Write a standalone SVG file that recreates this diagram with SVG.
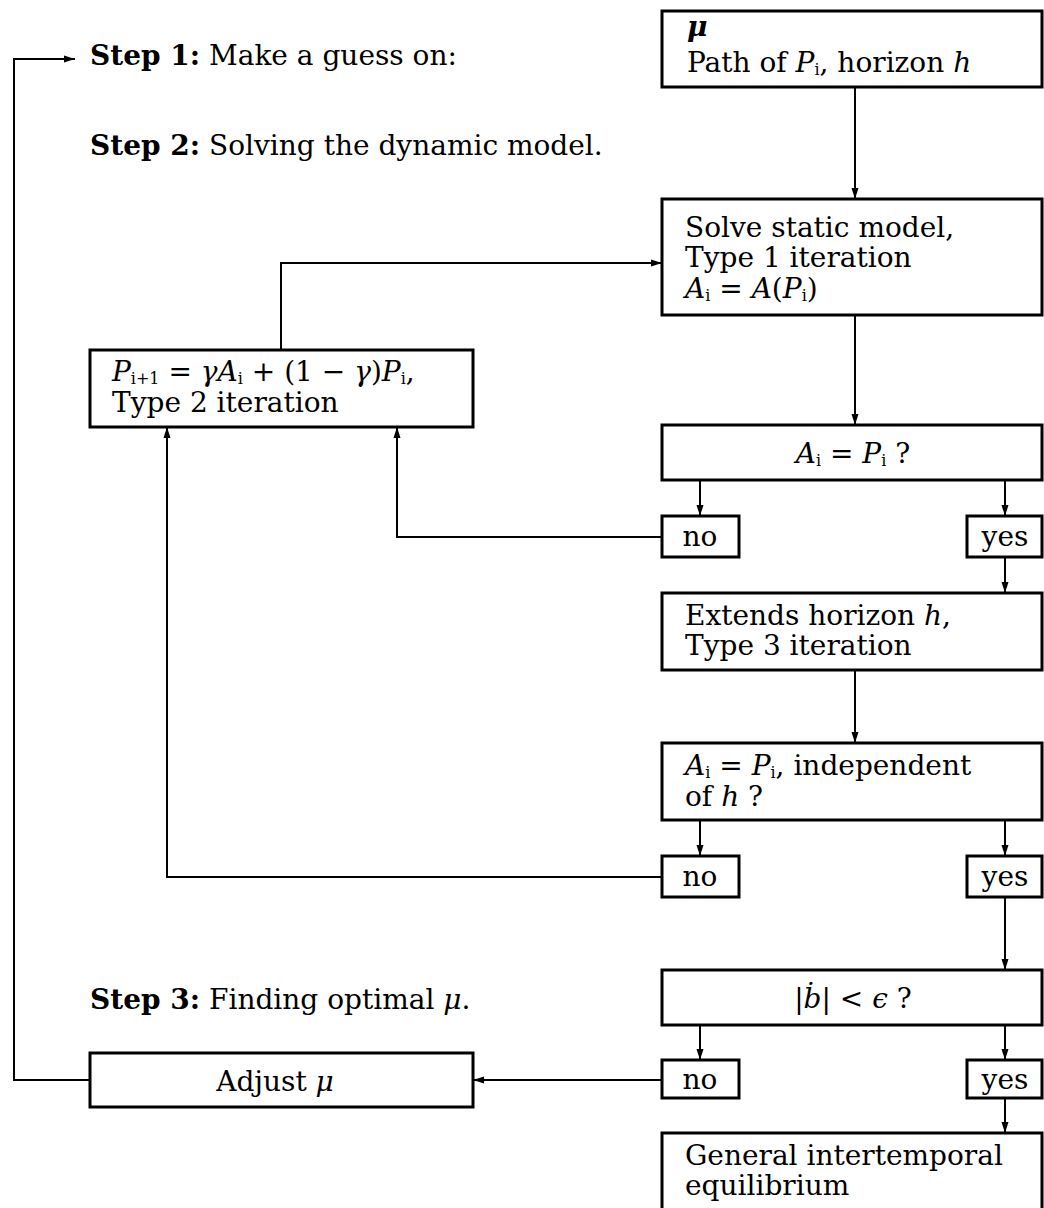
<svg xmlns="http://www.w3.org/2000/svg" width="1044" height="1208" viewBox="0 0 1044 1208">
<defs>
<marker id="ah" markerUnits="userSpaceOnUse" markerWidth="12" markerHeight="10" viewBox="0 0 12 10" refX="11" refY="5" orient="auto">
<path d="M0,1.5 L11,5 L0,8.5 Z" fill="#000"/>
</marker>
</defs>
<style>
.box{fill:#fff;stroke:#000;stroke-width:3}
.c{fill:none;stroke:#000;stroke-width:2}
text{font-family:"DejaVu Serif","Liberation Serif",serif;font-size:28px;fill:#000}
.b{font-weight:bold}
.i{font-style:italic}
.s{font-size:16px}
.m{text-anchor:middle}
</style>
<rect width="1044" height="1208" fill="#fff"/>

<g id="connectors">
<path class="c" d="M855,87 V199" marker-end="url(#ah)"/>
<path class="c" d="M855,315 V425" marker-end="url(#ah)"/>
<path class="c" d="M700,480 V516" marker-end="url(#ah)"/>
<path class="c" d="M1005,480 V516" marker-end="url(#ah)"/>
<path class="c" d="M662,537 H397 V427" marker-end="url(#ah)"/>
<path class="c" d="M1005,557 V593" marker-end="url(#ah)"/>
<path class="c" d="M281,350 V263 H662" marker-end="url(#ah)"/>
<path class="c" d="M855,670 V743" marker-end="url(#ah)"/>
<path class="c" d="M700,820 V856" marker-end="url(#ah)"/>
<path class="c" d="M1005,820 V856" marker-end="url(#ah)"/>
<path class="c" d="M662,877 H167 V427" marker-end="url(#ah)"/>
<path class="c" d="M1005,897 V970" marker-end="url(#ah)"/>
<path class="c" d="M700,1025 V1060" marker-end="url(#ah)"/>
<path class="c" d="M1005,1025 V1060" marker-end="url(#ah)"/>
<path class="c" d="M662,1080 H473" marker-end="url(#ah)"/>
<path class="c" d="M90,1080 H14 V59 H75" marker-end="url(#ah)"/>
<path class="c" d="M1005,1098 V1133" marker-end="url(#ah)"/>
</g>

<g id="step1"><text x="90" y="65"><tspan class="b">Step 1:</tspan> Make a guess on:</text></g>
<g id="step2"><text x="90" y="155"><tspan class="b">Step 2:</tspan> Solving the dynamic model.</text></g>
<g id="step3"><text x="90" y="1009"><tspan class="b">Step 3:</tspan> Finding optimal <tspan class="i">μ</tspan>.</text></g>

<g id="guess">
<rect class="box" x="662" y="11" width="380" height="76"/>
<text x="687" y="36"><tspan class="b i">μ</tspan><tspan x="687" y="72">Path of </tspan><tspan class="i">P</tspan><tspan class="s" dy="3">i</tspan><tspan dy="-3">, horizon </tspan><tspan class="i">h</tspan></text>
</g>

<g id="static">
<rect class="box" x="662" y="199" width="380" height="116"/>
<text x="685" y="237">Solve static model,<tspan x="685" y="267">Type 1 iteration</tspan><tspan x="685" y="298" class="i">A</tspan><tspan class="s" dy="3">i</tspan><tspan dy="-3"> = </tspan><tspan class="i">A</tspan>(<tspan class="i">P</tspan><tspan class="s" dy="3">i</tspan><tspan dy="-3">)</tspan></text>
</g>

<g id="update">
<rect class="box" x="90" y="350" width="383" height="77"/>
<text x="112" y="381"><tspan class="i">P</tspan><tspan class="s" dy="3">i+1</tspan><tspan dy="-3"> = </tspan><tspan class="i">γA</tspan><tspan class="s" dy="3">i</tspan><tspan dy="-3"> + (1 − </tspan><tspan class="i">γ</tspan>)<tspan class="i">P</tspan><tspan class="s" dy="3">i</tspan><tspan dy="-3">,</tspan><tspan x="112" y="412">Type 2 iteration</tspan></text>
</g>

<g id="check1">
<rect class="box" x="662" y="425" width="380" height="55"/>
<text x="853" y="463" class="m"><tspan class="i">A</tspan><tspan class="s" dy="3">i</tspan><tspan dy="-3"> = </tspan><tspan class="i">P</tspan><tspan class="s" dy="3">i</tspan><tspan dy="-3"> ?</tspan></text>
</g>
<g id="no1"><rect class="box" x="662" y="516" width="77" height="41"/><text x="700" y="546" class="m">no</text></g>
<g id="yes1"><rect class="box" x="967" y="516" width="75" height="41"/><text x="1005" y="546" class="m">yes</text></g>

<g id="extend">
<rect class="box" x="662" y="593" width="380" height="77"/>
<text x="685" y="625">Extends horizon <tspan class="i">h</tspan>,<tspan x="685" y="655">Type 3 iteration</tspan></text>
</g>

<g id="check2">
<rect class="box" x="662" y="743" width="380" height="77"/>
<text x="685" y="775"><tspan class="i">A</tspan><tspan class="s" dy="3">i</tspan><tspan dy="-3"> = </tspan><tspan class="i">P</tspan><tspan class="s" dy="3">i</tspan><tspan dy="-3">, independent</tspan><tspan x="685" y="806">of </tspan><tspan class="i">h</tspan> ?</text>
</g>
<g id="no2"><rect class="box" x="662" y="856" width="77" height="41"/><text x="700" y="886" class="m">no</text></g>
<g id="yes2"><rect class="box" x="967" y="856" width="75" height="41"/><text x="1005" y="886" class="m">yes</text></g>

<g id="check3">
<rect class="box" x="662" y="970" width="380" height="55"/>
<text x="853" y="1008" class="m">|<tspan class="i">ḃ</tspan>| &lt; <tspan class="i">ϵ</tspan> ?</text>
</g>
<g id="no3"><rect class="box" x="662" y="1060" width="77" height="38"/><text x="700" y="1089" class="m">no</text></g>
<g id="yes3"><rect class="box" x="967" y="1060" width="75" height="38"/><text x="1005" y="1089" class="m">yes</text></g>

<g id="adjust">
<rect class="box" x="90" y="1053" width="383" height="54"/>
<text x="275" y="1091" class="m">Adjust <tspan class="i">μ</tspan></text>
</g>

<g id="equilibrium">
<rect class="box" x="662" y="1133" width="380" height="90"/>
<text x="685" y="1165">General intertemporal<tspan x="685" y="1195">equilibrium</tspan></text>
</g>
</svg>
